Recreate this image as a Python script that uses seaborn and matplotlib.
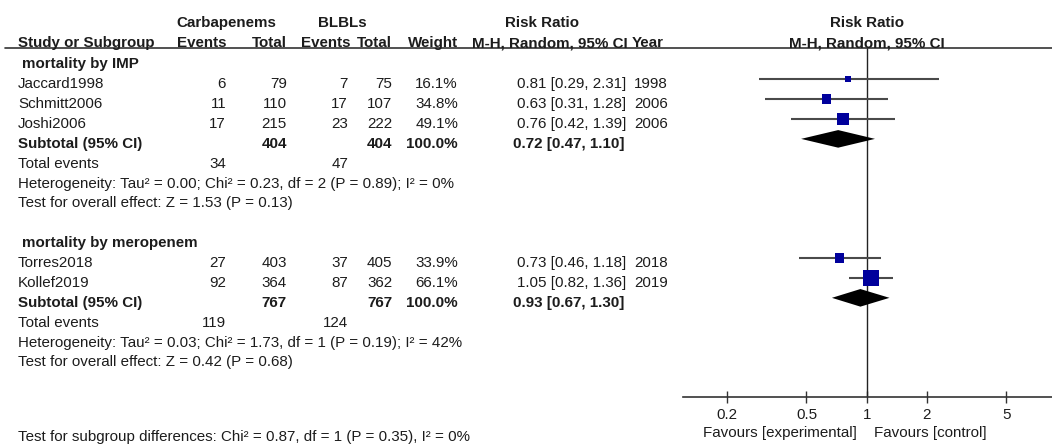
import matplotlib
matplotlib.use("Agg")
import matplotlib.pyplot as plt
from matplotlib.lines import Line2D
from matplotlib.ticker import NullLocator
import numpy as np
import pandas as pd
import seaborn as sns

# ---- data -------------------------------------------------------------
studies = ["Jaccard1998", "Schmitt2006", "Joshi2006", "Torres2018", "Kollef2019"]
carb_events = [6, 11, 17, 27, 92]
carb_total = [79, 110, 215, 403, 364]
blbl_events = [7, 17, 23, 37, 87]
blbl_total = [75, 107, 222, 405, 362]
weights = [16.1, 34.8, 49.1, 33.9, 66.1]
rr = [0.81, 0.63, 0.76, 0.73, 1.05]
ci_low = [0.29, 0.31, 0.42, 0.46, 0.82]
ci_high = [2.31, 1.28, 1.39, 1.18, 1.36]
years = [1998, 2006, 2006, 2018, 2019]
study_rows = [1, 2, 3, 10, 11]

group_names = ["mortality by IMP", "mortality by meropenem"]
group_rows = [0, 9]
sub_rows = [4, 12]
sub_carb_total = [404, 767]
sub_blbl_total = [404, 767]
sub_weight = [100.0, 100.0]
sub_rr = [0.72, 0.93]
sub_low = [0.47, 0.67]
sub_high = [1.10, 1.30]
events_carb = [34, 119]
events_blbl = [47, 124]
heterogeneity = [
    "Heterogeneity: Tau\u00b2 = 0.00; Chi\u00b2 = 0.23, df = 2 (P = 0.89); I\u00b2 = 0%",
    "Heterogeneity: Tau\u00b2 = 0.03; Chi\u00b2 = 1.73, df = 1 (P = 0.19); I\u00b2 = 42%",
]
overall_effect = [
    "Test for overall effect: Z = 1.53 (P = 0.13)",
    "Test for overall effect: Z = 0.42 (P = 0.68)",
]
subgroup_test = "Test for subgroup differences: Chi\u00b2 = 0.87, df = 1 (P = 0.35), I\u00b2 = 0%"
axis_ticks = [0.2, 0.5, 1, 2, 5]
tick_labels = ["0.2", "0.5", "1", "2", "5"]
favours = ["Favours [experimental]", "Favours [control]"]

# ---- figure -----------------------------------------------------------
W, H = 1052, 446
sns.set_theme(style="white")
plt.rcParams["font.family"] = ["Liberation Sans", "DejaVu Sans"]
FS = 10.9
TXT = "#1c1c1c"
fig = plt.figure(figsize=(W / 100, H / 100), dpi=100)

ROW0, ROWH = 59.4, 19.87     # pixel centre of row 0 marks, row pitch
BASE_OFF = 9.0               # text baseline below mark centre


def put(x, y, s, ha="left", bold=False):
    fig.text(x / W, 1 - y / H, s, ha=ha, va="baseline", fontsize=FS,
             color=TXT, fontweight="bold" if bold else "normal")


def row_base(r):
    return ROW0 + ROWH * r + BASE_OFF


# column header block
put(226, 27, "Carbapenems", ha="center", bold=True)
put(342, 27, "BLBLs", ha="center", bold=True)
put(542, 27, "Risk Ratio", ha="center", bold=True)
put(867, 27, "Risk Ratio", ha="center", bold=True)
put(18, 47, "Study or Subgroup", bold=True)
put(227, 47, "Events", ha="right", bold=True)
put(287, 47, "Total", ha="right", bold=True)
put(350, 47, "Events", ha="right", bold=True)
put(392, 47, "Total", ha="right", bold=True)
put(458, 47, "Weight", ha="right", bold=True)
put(550, 47, "M-H, Random, 95% CI", ha="center", bold=True)
put(632, 47, "Year", bold=True)
put(867, 47, "M-H, Random, 95% CI", ha="center", bold=True)
fig.add_artist(Line2D([5 / W, 1], [1 - 48 / H] * 2, transform=fig.transFigure,
                      color="#333333", lw=1.2))

# study rows
for i, r in enumerate(study_rows):
    y = row_base(r)
    put(18, y, studies[i])
    put(226, y, str(carb_events[i]), ha="right")
    put(287, y, str(carb_total[i]), ha="right")
    put(348, y, str(blbl_events[i]), ha="right")
    put(392, y, str(blbl_total[i]), ha="right")
    put(458, y, f"{weights[i]:.1f}%", ha="right")
    put(517, y, f"{rr[i]:.2f} [{ci_low[i]:.2f}, {ci_high[i]:.2f}]")
    put(668, y, str(years[i]), ha="right")

# subgroup blocks
for g in range(2):
    put(22, row_base(group_rows[g]), group_names[g], bold=True)
    y = row_base(sub_rows[g])
    put(18, y, "Subtotal (95% CI)", bold=True)
    put(287, y, str(sub_carb_total[g]), ha="right", bold=True)
    put(392, y, str(sub_blbl_total[g]), ha="right", bold=True)
    put(458, y, f"{sub_weight[g]:.1f}%", ha="right", bold=True)
    put(513, y, f"{sub_rr[g]:.2f} [{sub_low[g]:.2f}, {sub_high[g]:.2f}]", bold=True)
    y = row_base(sub_rows[g] + 1)
    put(18, y, "Total events")
    put(226, y, str(events_carb[g]), ha="right")
    put(348, y, str(events_blbl[g]), ha="right")
    put(18, row_base(sub_rows[g] + 2), heterogeneity[g])
    put(18, row_base(sub_rows[g] + 3), overall_effect[g])

put(18, 441.5, subgroup_test)

# ---- forest panel -----------------------------------------------------
ax_left, ax_top, ax_bot = 683, 48, 396.7
ax = fig.add_axes([ax_left / W, 1 - ax_bot / H, (W - ax_left) / W, (ax_bot - ax_top) / H])
ax.set_facecolor("none")

px_per_dec, x_one = 200.0, 866.7
ax.set_xscale("log")
ax.set_xlim(10 ** ((ax_left - x_one) / px_per_dec), 10 ** ((W - x_one) / px_per_dec))

ax.axvline(1, color="#222222", lw=1.0, zorder=1)
ax.hlines(study_rows, ci_low, ci_high, color="#4a4a4a", lw=1.5, zorder=2)

df = pd.DataFrame({"rr": rr, "row": study_rows, "weight": weights})
area_pt = {w: ((2.8 + 0.2 * w) * 0.72) ** 2 for w in weights}
sns.scatterplot(data=df, x="rr", y="row", size="weight", sizes=area_pt,
                marker="s", color="#00009c", edgecolor="none", linewidth=0,
                legend=False, ax=ax, zorder=3)

half_h = 8.8 / ROWH
for g in range(2):
    r = sub_rows[g]
    ax.fill([sub_low[g], sub_rr[g], sub_high[g], sub_rr[g]],
            [r, r - half_h, r, r + half_h], color="black", lw=0, zorder=4)

ax.set_ylim((ax_bot - ROW0) / ROWH, (ax_top - ROW0) / ROWH)
ax.set_xlabel("")
ax.set_ylabel("")
ax.set_yticks([])
ax.set_xticks(axis_ticks)
ax.set_xticklabels(tick_labels)
ax.xaxis.set_minor_locator(NullLocator())
ax.tick_params(axis="x", direction="inout", length=8, width=1.0, color="#333333",
               labelsize=FS, labelcolor=TXT, pad=4, bottom=True)
for side in ["top", "left", "right"]:
    ax.spines[side].set_visible(False)
ax.spines["bottom"].set_color("#333333")
ax.spines["bottom"].set_linewidth(1.2)
ax.grid(False)

put(857, 437, favours[0], ha="right")
put(874, 437, favours[1])

fig.savefig("out.png", dpi=100)
